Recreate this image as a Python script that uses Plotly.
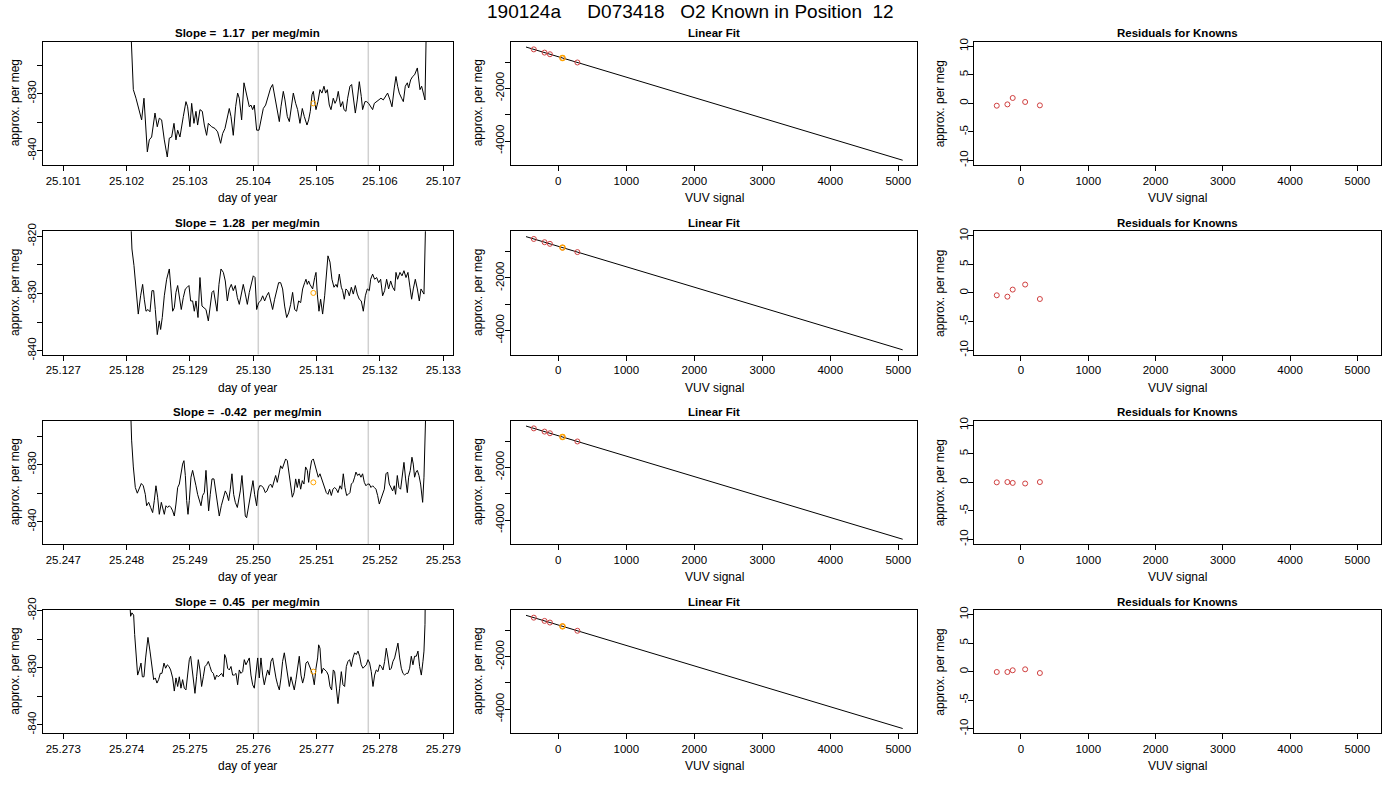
import plotly.graph_objects as go
from plotly.subplots import make_subplots

# ---------------- values ----------------
run_title = "190124a     D073418   O2 Known in Position  12"
slopes = ["1.17", "1.28", "-0.42", "0.45"]

day_1 = [25.102042, 25.102106, 25.102148, 25.102200, 25.102237, 25.102274, 25.102327, 25.102358, 25.102395, 25.102448,
         25.102484, 25.102516, 25.102553, 25.102595, 25.102642, 25.102674, 25.102711, 25.102748, 25.102779, 25.102806,
         25.102842, 25.102895, 25.102937, 25.102963, 25.103000, 25.103027, 25.103063, 25.103095, 25.103121, 25.103158,
         25.103195, 25.103227, 25.103263, 25.103290, 25.103342, 25.103395, 25.103437, 25.103484, 25.103516, 25.103553,
         25.103590, 25.103621, 25.103648, 25.103684, 25.103721, 25.103753, 25.103779, 25.103816, 25.103853, 25.103895,
         25.103937, 25.103963, 25.103990, 25.104016, 25.104053, 25.104090, 25.104121, 25.104158, 25.104195, 25.104237,
         25.104274, 25.104305, 25.104342, 25.104379, 25.104411, 25.104437, 25.104474, 25.104500, 25.104537, 25.104569,
         25.104600, 25.104632, 25.104669, 25.104700, 25.104737, 25.104774, 25.104805, 25.104848, 25.104874, 25.104900,
         25.104927, 25.104948, 25.104974, 25.104990, 25.105021, 25.105053, 25.105084, 25.105116, 25.105142, 25.105169,
         25.105200, 25.105227, 25.105263, 25.105290, 25.105316, 25.105342, 25.105379, 25.105411, 25.105432, 25.105463,
         25.105490, 25.105526, 25.105553, 25.105579, 25.105611, 25.105642, 25.105674, 25.105705, 25.105726, 25.105763,
         25.105790, 25.105821, 25.105853, 25.105884, 25.105911, 25.105948, 25.105979, 25.106016, 25.106053, 25.106090,
         25.106121, 25.106158, 25.106190, 25.106226, 25.106253, 25.106279, 25.106305, 25.106342, 25.106369, 25.106400,
         25.106432, 25.106453, 25.106484, 25.106516, 25.106547, 25.106590, 25.106616, 25.106632, 25.106658, 25.106684,
         25.106711, 25.106742]
permeg_1 = [-812.0, -829.3, -830.8, -833.1, -834.6, -830.8, -840.2, -838.1, -837.6, -833.4,
            -835.8, -834.3, -834.6, -838.1, -841.1, -837.8, -837.6, -835.2, -838.1, -836.4,
            -837.6, -834.0, -831.4, -832.3, -835.8, -831.7, -835.2, -833.1, -835.5, -832.8,
            -833.1, -835.5, -837.3, -835.2, -835.8, -836.1, -836.7, -838.7, -837.0, -836.1,
            -834.0, -832.6, -834.0, -837.3, -832.3, -829.9, -830.8, -834.6, -828.1, -830.5,
            -832.3, -832.0, -832.8, -832.0, -836.4, -836.4, -834.6, -832.6, -832.0, -830.2,
            -829.0, -828.4, -830.8, -833.1, -834.9, -832.3, -829.6, -831.1, -834.0, -834.9,
            -832.3, -829.9, -831.7, -832.8, -835.2, -832.6, -834.0, -835.5, -834.6, -833.1,
            -830.2, -829.6, -831.7, -832.8, -831.4, -829.3, -829.9, -828.7, -829.9, -829.3,
            -832.0, -832.8, -830.8, -831.7, -831.1, -829.6, -832.3, -831.4, -832.8, -833.1,
            -830.8, -828.7, -828.4, -830.5, -833.4, -831.1, -827.9, -830.5, -832.8, -831.4,
            -831.4, -831.7, -832.3, -832.8, -831.7, -831.4, -831.1, -830.8, -831.1, -830.5,
            -829.9, -831.1, -832.3, -829.0, -827.0, -828.7, -829.9, -830.8, -831.4, -828.7,
            -828.1, -829.0, -827.6, -827.0, -826.7, -825.5, -828.1, -829.3, -828.7, -830.2,
            -831.1, -812.0]

day_2 = [25.128048, 25.128084, 25.128116, 25.128148, 25.128184, 25.128221, 25.128253, 25.128279, 25.128306, 25.128337,
         25.128369, 25.128400, 25.128427, 25.128453, 25.128484, 25.128516, 25.128537, 25.128563, 25.128595, 25.128632,
         25.128674, 25.128700, 25.128727, 25.128753, 25.128779, 25.128806, 25.128832, 25.128863, 25.128895, 25.128927,
         25.128958, 25.128984, 25.129011, 25.129042, 25.129069, 25.129095, 25.129127, 25.129158, 25.129190, 25.129221,
         25.129253, 25.129290, 25.129316, 25.129348, 25.129374, 25.129400, 25.129427, 25.129458, 25.129490, 25.129527,
         25.129558, 25.129590, 25.129621, 25.129653, 25.129684, 25.129716, 25.129748, 25.129779, 25.129811, 25.129842,
         25.129874, 25.129906, 25.129937, 25.129969, 25.130000, 25.130027, 25.130053, 25.130084, 25.130116, 25.130148,
         25.130179, 25.130211, 25.130242, 25.130274, 25.130305, 25.130337, 25.130369, 25.130400, 25.130432, 25.130463,
         25.130495, 25.130527, 25.130558, 25.130590, 25.130621, 25.130653, 25.130684, 25.130716, 25.130748, 25.130779,
         25.130811, 25.130832, 25.130853, 25.130874, 25.130895, 25.130916, 25.130937, 25.130969, 25.130990, 25.131011,
         25.131037, 25.131063, 25.131095, 25.131127, 25.131158, 25.131179, 25.131211, 25.131242, 25.131274, 25.131305,
         25.131327, 25.131358, 25.131390, 25.131411, 25.131437, 25.131463, 25.131490, 25.131516, 25.131548, 25.131579,
         25.131611, 25.131642, 25.131674, 25.131705, 25.131737, 25.131769, 25.131800, 25.131832, 25.131853, 25.131884,
         25.131916, 25.131948, 25.131979, 25.132011, 25.132042, 25.132074, 25.132105, 25.132137, 25.132169, 25.132200,
         25.132232, 25.132253, 25.132279, 25.132316, 25.132348, 25.132379, 25.132411, 25.132442, 25.132474, 25.132500,
         25.132526, 25.132558, 25.132590, 25.132621, 25.132648, 25.132674, 25.132695, 25.132732]
permeg_2 = [-812.0, -822.2, -825.1, -829.2, -833.6, -830.4, -828.4, -831.0, -833.1, -832.8,
            -833.2, -829.5, -829.5, -832.8, -837.2, -834.8, -836.3, -834.2, -830.4, -827.5,
            -825.7, -829.2, -833.1, -832.5, -829.8, -828.6, -830.4, -832.8, -830.7, -829.2,
            -828.9, -828.6, -831.3, -831.3, -833.1, -831.3, -834.2, -827.2, -832.2, -832.5,
            -832.8, -834.8, -832.2, -829.8, -829.5, -831.0, -833.1, -828.4, -825.7, -826.3,
            -827.8, -831.3, -829.2, -828.4, -829.5, -828.6, -830.7, -831.9, -829.8, -828.4,
            -830.1, -831.9, -829.8, -828.1, -826.9, -827.2, -832.8, -831.6, -831.3, -830.4,
            -831.3, -830.4, -829.8, -831.3, -832.8, -831.0, -829.2, -828.1, -828.1, -829.2,
            -832.2, -834.2, -833.4, -831.9, -829.8, -832.8, -833.1, -831.3, -831.6, -829.2,
            -828.1, -827.5, -828.4, -827.8, -828.4, -828.9, -829.2, -827.2, -826.3, -830.1,
            -833.1, -831.0, -833.6, -830.4, -825.1, -823.4, -824.5, -827.5, -828.9, -828.4,
            -828.9, -826.6, -828.9, -829.5, -831.0, -829.2, -829.5, -830.4, -828.9, -830.1,
            -828.6, -830.1, -831.0, -831.3, -833.1, -830.4, -829.2, -829.5, -827.5, -826.6,
            -827.5, -827.2, -828.1, -827.5, -830.4, -829.5, -827.5, -829.2, -827.8, -828.9,
            -829.5, -826.3, -827.5, -826.3, -826.9, -826.0, -827.2, -826.3, -828.9, -831.0,
            -829.2, -827.5, -829.2, -831.3, -829.2, -829.8, -830.1, -812.0]

day_3 = [25.248048, 25.248079, 25.248106, 25.248137, 25.248169, 25.248200, 25.248232, 25.248263, 25.248295, 25.248316,
         25.248348, 25.248379, 25.248411, 25.248437, 25.248463, 25.248490, 25.248516, 25.248548, 25.248569, 25.248595,
         25.248621, 25.248648, 25.248674, 25.248700, 25.248727, 25.248753, 25.248779, 25.248806, 25.248832, 25.248858,
         25.248884, 25.248905, 25.248927, 25.248948, 25.248969, 25.248990, 25.249016, 25.249042, 25.249069, 25.249095,
         25.249121, 25.249148, 25.249174, 25.249200, 25.249227, 25.249253, 25.249274, 25.249295, 25.249321, 25.249348,
         25.249379, 25.249405, 25.249432, 25.249463, 25.249495, 25.249527, 25.249558, 25.249584, 25.249611, 25.249637,
         25.249663, 25.249690, 25.249716, 25.249748, 25.249774, 25.249795, 25.249821, 25.249848, 25.249874, 25.249895,
         25.249921, 25.249948, 25.249974, 25.249995, 25.250021, 25.250053, 25.250074, 25.250100, 25.250126, 25.250158,
         25.250190, 25.250216, 25.250248, 25.250274, 25.250300, 25.250326, 25.250353, 25.250379, 25.250405, 25.250432,
         25.250458, 25.250484, 25.250511, 25.250537, 25.250563, 25.250590, 25.250616, 25.250642, 25.250669, 25.250695,
         25.250721, 25.250748, 25.250774, 25.250800, 25.250826, 25.250853, 25.250874, 25.250895, 25.250921, 25.250948,
         25.250974, 25.251000, 25.251026, 25.251053, 25.251079, 25.251105, 25.251127, 25.251153, 25.251179, 25.251205,
         25.251232, 25.251258, 25.251284, 25.251311, 25.251337, 25.251369, 25.251395, 25.251421, 25.251448, 25.251474,
         25.251500, 25.251526, 25.251548, 25.251574, 25.251600, 25.251621, 25.251648, 25.251674, 25.251700, 25.251726,
         25.251753, 25.251779, 25.251805, 25.251832, 25.251858, 25.251884, 25.251911, 25.251937, 25.251963, 25.251990,
         25.252016, 25.252042, 25.252069, 25.252095, 25.252121, 25.252147, 25.252174, 25.252200, 25.252226, 25.252247,
         25.252274, 25.252300, 25.252326, 25.252353, 25.252379, 25.252405, 25.252432, 25.252453, 25.252479, 25.252505,
         25.252526, 25.252547, 25.252569, 25.252590, 25.252616, 25.252642, 25.252674, 25.252695, 25.252716, 25.252737]
permeg_3 = [-815.0, -825.7, -830.4, -834.0, -835.0, -834.3, -833.3, -833.7, -835.2, -837.2,
            -836.6, -837.5, -838.4, -836.3, -833.7, -835.7, -838.7, -836.6, -837.5, -838.7,
            -837.2, -837.5, -837.2, -837.5, -838.1, -839.0, -836.9, -834.0, -833.4, -831.3,
            -829.9, -829.3, -831.9, -836.3, -838.7, -836.3, -832.2, -831.0, -832.2, -833.7,
            -835.2, -836.3, -837.2, -835.4, -834.9, -831.0, -834.9, -838.1, -835.2, -832.5,
            -832.5, -834.3, -836.6, -839.0, -837.2, -836.0, -834.6, -835.2, -836.3, -834.3,
            -831.6, -835.2, -836.6, -837.5, -835.7, -834.6, -831.9, -836.0, -839.0, -839.3,
            -837.5, -835.4, -834.0, -832.8, -835.2, -837.2, -834.6, -833.7, -833.7, -834.0,
            -834.9, -834.6, -833.7, -833.4, -834.0, -833.1, -831.9, -833.1, -831.9, -830.2,
            -830.7, -829.9, -829.0, -829.3, -831.6, -834.3, -835.7, -834.9, -832.5, -834.0,
            -832.5, -834.3, -832.8, -833.4, -830.4, -831.0, -833.1, -831.0, -829.3, -829.0,
            -830.2, -831.3, -832.2, -831.6, -832.5, -833.1, -834.0, -834.9, -835.2, -834.3,
            -835.4, -834.3, -834.0, -834.3, -834.9, -833.7, -834.3, -831.6, -834.0, -835.4,
            -835.2, -834.9, -833.4, -833.1, -832.2, -831.3, -831.9, -831.6, -832.2, -831.6,
            -833.1, -833.7, -833.4, -833.4, -834.0, -833.7, -834.0, -834.3, -835.4, -836.9,
            -836.0, -835.2, -834.3, -831.6, -831.3, -833.4, -834.0, -834.6, -833.7, -835.2,
            -831.9, -834.0, -834.3, -831.9, -829.6, -832.5, -834.9, -832.2, -831.0, -828.7,
            -829.9, -832.2, -831.3, -831.0, -831.9, -833.4, -836.6, -832.2, -826.9, -815.0]

day_4 = [25.274042, 25.274063, 25.274084, 25.274111, 25.274127, 25.274148, 25.274174, 25.274200, 25.274227, 25.274248,
         25.274274, 25.274300, 25.274337, 25.274369, 25.274400, 25.274427, 25.274453, 25.274479, 25.274505, 25.274532,
         25.274558, 25.274590, 25.274616, 25.274642, 25.274669, 25.274695, 25.274727, 25.274753, 25.274779, 25.274806,
         25.274832, 25.274858, 25.274884, 25.274911, 25.274937, 25.274963, 25.274990, 25.275011, 25.275032, 25.275058,
         25.275079, 25.275105, 25.275132, 25.275158, 25.275184, 25.275211, 25.275237, 25.275263, 25.275290, 25.275316,
         25.275342, 25.275369, 25.275395, 25.275421, 25.275448, 25.275474, 25.275500, 25.275527, 25.275548, 25.275569,
         25.275595, 25.275621, 25.275648, 25.275674, 25.275700, 25.275727, 25.275753, 25.275779, 25.275805, 25.275832,
         25.275858, 25.275884, 25.275911, 25.275937, 25.275963, 25.275990, 25.276016, 25.276042, 25.276069, 25.276095,
         25.276121, 25.276148, 25.276174, 25.276200, 25.276227, 25.276253, 25.276279, 25.276305, 25.276332, 25.276358,
         25.276384, 25.276411, 25.276437, 25.276463, 25.276490, 25.276516, 25.276542, 25.276569, 25.276595, 25.276621,
         25.276647, 25.276674, 25.276700, 25.276726, 25.276753, 25.276779, 25.276805, 25.276832, 25.276858, 25.276884,
         25.276911, 25.276937, 25.276963, 25.276990, 25.277016, 25.277032, 25.277053, 25.277079, 25.277105, 25.277132,
         25.277158, 25.277184, 25.277211, 25.277237, 25.277263, 25.277284, 25.277311, 25.277337, 25.277363, 25.277390,
         25.277416, 25.277442, 25.277469, 25.277495, 25.277521, 25.277548, 25.277574, 25.277600, 25.277626, 25.277653,
         25.277679, 25.277705, 25.277732, 25.277758, 25.277784, 25.277811, 25.277837, 25.277863, 25.277890, 25.277916,
         25.277942, 25.277969, 25.277995, 25.278021, 25.278048, 25.278074, 25.278100, 25.278126, 25.278153, 25.278179,
         25.278205, 25.278232, 25.278258, 25.278284, 25.278311, 25.278337, 25.278363, 25.278390, 25.278416, 25.278442,
         25.278469, 25.278495, 25.278521, 25.278547, 25.278574, 25.278600, 25.278626, 25.278653, 25.278679, 25.278695,
         25.278711, 25.278721]
permeg_4 = [-817.0, -821.0, -820.4, -820.8, -824.2, -828.3, -831.3, -830.4, -829.2, -831.6,
            -831.6, -828.3, -824.7, -827.1, -830.1, -832.1, -831.8, -832.7, -832.1, -831.0,
            -831.0, -829.2, -830.1, -829.5, -829.8, -830.4, -831.8, -834.1, -831.8, -833.3,
            -831.6, -833.6, -832.1, -833.6, -833.9, -831.0, -828.6, -828.0, -830.1, -832.4,
            -834.5, -831.6, -828.6, -830.4, -833.3, -831.6, -829.8, -829.5, -828.9, -829.8,
            -830.7, -831.0, -832.1, -831.3, -831.6, -831.3, -831.0, -831.6, -827.7, -828.3,
            -830.1, -830.4, -829.8, -831.3, -831.3, -831.0, -833.0, -830.4, -831.0, -830.7,
            -828.6, -829.5, -828.9, -828.3, -831.3, -833.0, -833.6, -830.7, -828.3, -831.8,
            -828.3, -831.3, -833.0, -831.6, -830.4, -831.3, -828.9, -828.3, -830.4, -831.8,
            -833.0, -833.9, -831.8, -828.9, -827.4, -829.5, -831.8, -833.3, -831.6, -833.0,
            -833.9, -832.1, -830.1, -828.0, -831.3, -832.7, -831.6, -829.2, -828.9, -829.5,
            -830.4, -831.3, -833.0, -830.1, -828.3, -826.0, -826.6, -831.0, -830.1, -830.4,
            -830.7, -831.3, -833.3, -833.9, -830.4, -830.7, -833.6, -836.3, -833.6, -830.7,
            -833.0, -833.3, -829.8, -828.9, -828.6, -829.8, -828.3, -827.4, -827.7, -827.1,
            -828.0, -829.5, -830.1, -829.8, -829.5, -828.6, -829.2, -830.7, -833.3, -831.3,
            -830.4, -830.7, -829.5, -829.8, -830.4, -828.9, -826.6, -828.3, -830.4, -830.1,
            -828.9, -828.3, -827.1, -825.7, -828.3, -830.1, -831.0, -831.3, -831.0, -831.0,
            -830.1, -828.0, -829.5, -828.0, -828.0, -827.1, -829.8, -831.3, -828.9, -827.1,
            -822.4, -812.0]

window_start = [25.104079, 25.130079, 25.250079, 25.276079]
window_end = [25.105816, 25.131816, 25.251816, 25.277816]
sample_day = [25.104948, 25.130948, 25.250948, 25.276948]
sample_permeg = [-831.7, -829.9, -833.1, -830.7]

known_vuv = [-360, -202, -123, 62, 281]
known_permeg = [-520, -643, -705, -848, -1018]
fit_vuv = [-475, 5065]
fit_permeg = [-431, -4730]
sample_vuv = [62]
sample_fit_permeg = [-848]

resid_1 = [-0.41, -0.18, 0.94, 0.24, -0.35]
resid_2 = [-0.41, -0.65, 0.59, 1.47, -1.06]
resid_3 = [0.0, 0.05, -0.1, -0.2, 0.05]
resid_4 = [-0.06, -0.06, 0.24, 0.41, -0.24]

# ---------------- figure ----------------
W, H = 1400, 800
FONT = "Liberation Sans, Arial, Helvetica, sans-serif"
NB = "\u00a0"

days = [day_1, day_2, day_3, day_4]
permegs = [permeg_1, permeg_2, permeg_3, permeg_4]
resids = [resid_1, resid_2, resid_3, resid_4]
day_base = [25.101, 25.127, 25.247, 25.273]
y_ranges = [[-842.5, -820.9], [-840.7, -819.1], [-843.9, -822.3], [-841.5, -819.9]]

# plot boxes in pixels
col_left = [42.7, 510.7, 974.3]
col_right = [453.3, 917.3, 1381.0]
row_top = [41.7, 231.3, 420.7, 610.0]
box_h = 123.3

fig = make_subplots(rows=4, cols=3)

axis_common = dict(showline=True, linecolor="black", linewidth=1, mirror=True,
                   ticks="outside", ticklen=5, tickcolor="black", tickwidth=1,
                   showgrid=False, zeroline=False, automargin=False,
                   tickfont=dict(family=FONT, size=11.5, color="black"))

for r in range(4):
    row = r + 1
    top = row_top[r]
    bot = top + box_h
    ydom = [1 - bot / H, 1 - top / H]

    # time series
    fig.add_trace(go.Scatter(x=days[r], y=permegs[r], mode="lines",
                             line=dict(color="black", width=1), showlegend=False),
                  row=row, col=1)
    fig.add_trace(go.Scatter(x=[sample_day[r]], y=[sample_permeg[r]], mode="markers",
                             marker=dict(symbol="circle-open", size=5, color="#ffa500",
                                         line=dict(width=1)), showlegend=False),
                  row=row, col=1)
    for g in (window_start[r], window_end[r]):
        fig.add_vline(x=g, line_color="#d0d0d0", line_width=1.5, layer="below", row=row, col=1)

    # linear fit
    fig.add_trace(go.Scatter(x=fit_vuv, y=fit_permeg, mode="lines",
                             line=dict(color="black", width=1), showlegend=False),
                  row=row, col=2)
    fig.add_trace(go.Scatter(x=known_vuv, y=known_permeg, mode="markers",
                             marker=dict(symbol="circle-open", size=5, color="#d04040",
                                         line=dict(width=1)), showlegend=False),
                  row=row, col=2)
    fig.add_trace(go.Scatter(x=sample_vuv, y=sample_fit_permeg, mode="markers",
                             marker=dict(symbol="circle-open", size=5, color="#ffa500",
                                         line=dict(width=1.3)), showlegend=False),
                  row=row, col=2)

    # residuals
    fig.add_trace(go.Scatter(x=known_vuv, y=resids[r], mode="markers",
                             marker=dict(symbol="circle-open", size=5, color="#d04040",
                                         line=dict(width=1)), showlegend=False),
                  row=row, col=3)

    b = day_base[r]
    fig.update_xaxes(axis_common, domain=[col_left[0] / W, col_right[0] / W],
                     range=[b - 0.000325, b + 0.006158], tick0=b, dtick=0.001,
                     tickformat=".3f", row=row, col=1)
    yv = list(range(-850, -810, 5))
    fig.update_yaxes(axis_common, domain=ydom, range=y_ranges[r], tickvals=yv,
                     ticktext=[str(v) if v % 10 == 0 else "" for v in yv],
                     tickangle=-90, ticklabelstandoff=-4, row=row, col=1)

    fig.update_xaxes(axis_common, domain=[col_left[1] / W, col_right[1] / W],
                     range=[-700, 5280], tickvals=[0, 1000, 2000, 3000, 4000, 5000],
                     row=row, col=2)
    fig.update_yaxes(axis_common, domain=ydom, range=[-4911, -229],
                     tickvals=[-1000, -2000, -3000, -4000],
                     ticktext=["", "-2000", "", "-4000"], tickangle=-90,
                     ticklabelstandoff=-4, row=row, col=2)

    fig.update_xaxes(axis_common, domain=[col_left[2] / W, col_right[2] / W],
                     range=[-694, 5352], tickvals=[0, 1000, 2000, 3000, 4000, 5000],
                     row=row, col=3)
    fig.update_yaxes(axis_common, domain=ydom, range=[-10.8, 10.8],
                     tickvals=[-10, -5, 0, 5, 10], ticktext=["-10", "-5", "0", "5", "10"],
                     tickangle=-90, ticklabelstandoff=-4, row=row, col=3)

    # panel titles and axis titles
    titles = ["Slope =" + NB + " " + slopes[r] + NB + " per meg/min", "Linear Fit", "Residuals for Knowns"]
    xlabels = ["day of year", "VUV signal", "VUV signal"]
    ylab_x = [15, 478, 940]
    for c in range(3):
        cx = (col_left[c] + col_right[c]) / 2 / W
        fig.add_annotation(text="<b>" + titles[c] + "</b>", x=cx, y=1 - (top - 8.5) / H,
                           xref="paper", yref="paper", showarrow=False,
                           xanchor="center", yanchor="middle",
                           font=dict(family=FONT, size=11.5, color="black"))
        fig.add_annotation(text=xlabels[c], x=cx, y=1 - (bot + 33) / H,
                           xref="paper", yref="paper", showarrow=False,
                           xanchor="center", yanchor="middle",
                           font=dict(family=FONT, size=12, color="black"))
        fig.add_annotation(text="approx. per meg", x=ylab_x[c] / W, y=1 - (top + bot) / 2 / H,
                           xref="paper", yref="paper", showarrow=False, textangle=-90,
                           xanchor="center", yanchor="middle",
                           font=dict(family=FONT, size=12, color="black"))

fig.add_annotation(text=run_title.replace("  ", NB + " "), x=690 / W, y=1 - 11 / H,
                   xref="paper", yref="paper", showarrow=False,
                   xanchor="center", yanchor="middle",
                   font=dict(family=FONT, size=19, color="black"))

fig.update_layout(width=W, height=H, margin=dict(l=0, r=0, t=0, b=0, pad=0),
                  paper_bgcolor="white", plot_bgcolor="white", showlegend=False,
                  font=dict(family=FONT, color="black"))

fig.write_html("out.html", config={"displayModeBar": False},
               post_script="document.body.style.margin='0px';")
